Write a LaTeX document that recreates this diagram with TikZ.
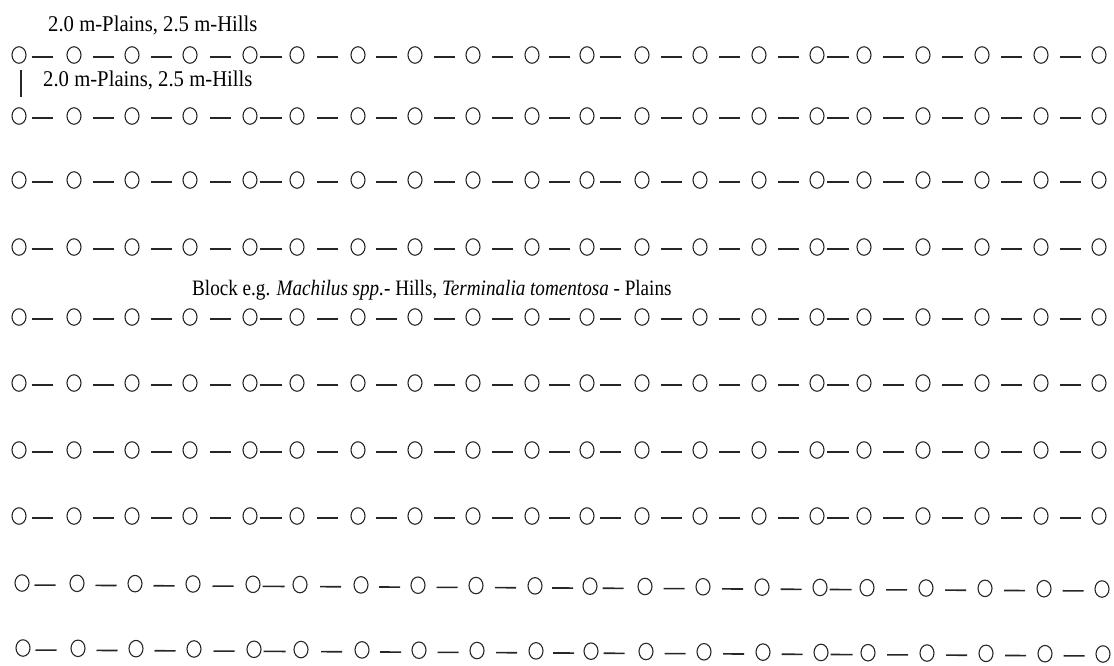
\documentclass[tikz,border=0pt]{standalone}
\usepackage{fontspec}
\setmainfont{Liberation Serif}
\usetikzlibrary{shapes.geometric}
\tikzset{
  seed/.style={draw=black!85, ellipse, line width=1.1pt, minimum width=14pt, minimum height=16.5pt, inner sep=0pt},
  link/.style={draw=black!85, line width=1.6pt},
  lbl/.style={font=\fontsize{22.5}{26}\selectfont, anchor=base west, inner sep=0pt},
  blk/.style={font=\fontsize{22}{26}\selectfont, anchor=base west, inner sep=0pt},
}
\begin{document}
\begin{tikzpicture}[x=1pt,y=-1pt]
\useasboundingbox (0,0) rectangle (1114,665);
\def\xs{19,74,132,190,250,297,358,415,473,532,587,642,700,759,817,864,923,982,1041,1099}
\foreach \r/\yy/\dx/\tilt in {1/55/0/0,2/116/0/0,3/180/0/0,4/247/0/0,5/317/0/0,6/383/0/0,7/450/0/0,8/516/0/0,9/583/3/6,10/648/4/6}{
  \foreach \xx [count=\c, remember=\xx as \px (initially 0)] in \xs {
    \node[seed] (r\r c\c) at ({\xx+\dx}, {\yy+\tilt*(\xx-19)/1080}) {};
    \ifnum\c>1
      \pgfmathtruncatemacro\p{\c-1}
      \pgfmathsetmacro\d{\xx-\px}
      \pgfmathsetmacro\g{(\p==1||\p==11)?5:((\p==5||\p==15)?2:(\d-15-21)/2)}
      \pgfmathsetmacro\L{(\p==5||\p==15)?22:21}
      \pgfmathsetmacro\sa{7.5+\g}
      \pgfmathsetmacro\sb{\d-7.5-\g-\L}
      \draw[link, shorten <=\sa pt, shorten >=\sb pt] ([yshift=-2pt]r\r c\p.center) -- ([yshift=-2pt]r\r c\c.center);
    \fi
  }
}
\draw[link, shorten <=15pt, shorten >=19pt] ([xshift=2pt]r1c1.center) -- ([xshift=2pt]r2c1.center);
\node[lbl] (lab1) at (48,31) {\scalebox{0.92}[1]{2.0 m-Plains, 2.5 m-Hills}};
\node[lbl] (lab2) at (43,86) {\scalebox{0.92}[1]{2.0 m-Plains, 2.5 m-Hills}};
\node[blk] (blk) at (192,295) {\scalebox{0.87}[1]{Block e.g. \textit{Machilus spp.}- Hills, \textit{Terminalia tomentosa} - Plains}};
\end{tikzpicture}
\end{document}
